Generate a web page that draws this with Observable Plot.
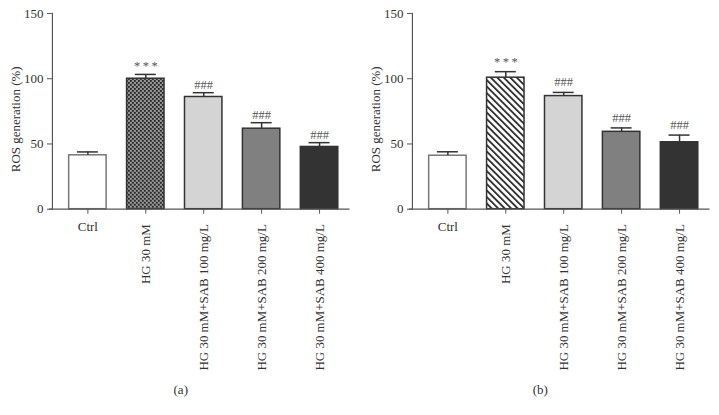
<!DOCTYPE html>
<html>
<head>
<meta charset="utf-8">
<script src="https://cdn.jsdelivr.net/npm/d3@7"></script>
<script src="https://cdn.jsdelivr.net/npm/@observablehq/plot@0.6"></script>
<style>
  html, body { margin: 0; padding: 0; background: #fff; }
  #wrap { display: flex; width: 719px; }
  .panel { width: 360px; }
  .cap { font-family: "Liberation Serif", serif; font-size: 13px; color: #333; text-align: center; margin-top: 8px; padding-left: 2px; }
</style>
</head>
<body>
<div id="wrap">
  <div class="panel" id="pa"></div>
  <div class="panel" id="pb"></div>
</div>
<script>
const categories = ["Ctrl", "HG 30 mM", "HG 30 mM+SAB 100 mg/L", "HG 30 mM+SAB 200 mg/L", "HG 30 mM+SAB 400 mg/L"];
const rosA = [41.3, 100, 86, 61.7, 47.7];
const errA = [2.6, 3.3, 3.3, 4.6, 3.3];
const rosB = [41, 100.8, 86.7, 59.3, 51.3];
const errB = [3.0, 4.6, 2.8, 3.0, 5.5];
const sigLabels = ["", "*\u2009*\u2009*", "###", "###", "###"];
const yTicks = [0, 50, 100, 150];
const yLabel = "ROS generation (%)";
const captions = ["(a)", "(b)"];

const baseFills = ["#ffffff", null, "#d4d4d4", "#808080", "#333333"];
const baseStrokes = ["#777777", "#333333", "#333333", "#333333", "#333333"];

function makePanel(values, errs, patternId, defsHtml, dyText) {
  const data = categories.map((c, i) => ({cat: c, v: values[i], e: errs[i], sig: sigLabels[i], i}));
  const fills = baseFills.map(f => f === null ? `url(#${patternId})` : f);
  const svg = Plot.plot({
    width: 360,
    height: 375,
    marginLeft: 52,
    marginRight: 6,
    marginTop: 13,
    marginBottom: 166,
    style: {fontFamily: "'Liberation Serif', serif", fontSize: "13px", color: "#333", background: "white", overflow: "visible"},
    x: {domain: categories, paddingInner: 0.328, paddingOuter: 0.234, axis: null},
    y: {domain: [0, 150], axis: null},
    color: {type: "identity"},
    marks: [
      Plot.barY(data, {x: "cat", y: "v", fill: d => fills[d.i], stroke: d => baseStrokes[d.i], strokeWidth: 1.5, insetLeft: 0.75, insetRight: 0.75}),
      Plot.ruleX(data, {x: "cat", y1: "v", y2: d => d.v + d.e, stroke: "#333", strokeWidth: 1.5}),
      Plot.tickY(data, {x: "cat", y: d => d.v + d.e, insetLeft: 9, insetRight: 9, stroke: "#333", strokeWidth: 1.5}),
      Plot.text(data, {x: "cat", y: d => d.v + d.e, text: "sig", lineAnchor: "bottom", dy: dyText, fill: "#555", fontSize: 12.5}),
      Plot.ruleY([0], {stroke: "#555", strokeWidth: 1.2, insetLeft: -3, insetRight: 4}),
      Plot.frame({anchor: "left", stroke: "#555", strokeWidth: 1.2}),
      Plot.axisY({ticks: yTicks, tickSize: 5, tickPadding: 4, stroke: "#555", fontSize: 13, label: null}),
      Plot.text([yLabel], {text: d => d, frameAnchor: "left", textAnchor: "middle", lineAnchor: "middle", rotate: -90, dx: -37, dy: 8, fontSize: 13, fill: "#333"}),
      Plot.axisX(["Ctrl"], {tickSize: 5, tickPadding: 8, stroke: "#555", fontSize: 13, label: null}),
      Plot.axisX(categories.slice(1), {tickRotate: -90, tickSize: 5, tickPadding: 10, stroke: "#555", fontSize: 13, label: null})
    ]
  });
  d3.select(svg).insert("defs", ":first-child").html(defsHtml);
  return svg;
}

const defsA = `<pattern id="xhatch" patternUnits="userSpaceOnUse" width="4" height="4">
  <rect width="4" height="4" fill="#2a2a2a"></rect>
  <rect x="0.3" y="0.3" width="1.5" height="1.5" fill="#fff"></rect>
  <rect x="2.3" y="2.3" width="1.5" height="1.5" fill="#fff"></rect>
</pattern>`;
const defsB = `<pattern id="diag" patternUnits="userSpaceOnUse" width="4.6" height="4.6" patternTransform="rotate(-45)">
  <rect width="4.6" height="4.6" fill="#fff"></rect>
  <rect x="0" y="0" width="1.7" height="4.6" fill="#222"></rect>
</pattern>`;

const pa = document.getElementById("pa");
pa.appendChild(makePanel(rosA, errA, "xhatch", defsA, -4));
const ca = document.createElement("div"); ca.className = "cap"; ca.textContent = captions[0]; pa.appendChild(ca);

const pb = document.getElementById("pb");
pb.appendChild(makePanel(rosB, errB, "diag", defsB, -6));
const cb = document.createElement("div"); cb.className = "cap"; cb.textContent = captions[1]; pb.appendChild(cb);
</script>
</body>
</html>
